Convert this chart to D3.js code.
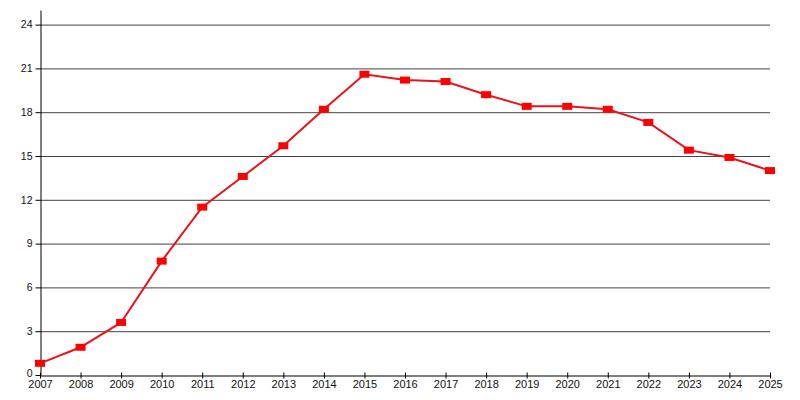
<!DOCTYPE html>
<html>
<head>
<meta charset="utf-8">
<script src="https://cdn.jsdelivr.net/npm/d3@7"></script>
<style>
  html, body { margin: 0; padding: 0; background: #fff; }
  svg { display: block; }
</style>
</head>
<body>
<div id="chart"></div>
<script>
// ── Data ──────────────────────────────────────────
const years  = [2007, 2008, 2009, 2010, 2011, 2012, 2013, 2014, 2015, 2016,
                2017, 2018, 2019, 2020, 2021, 2022, 2023, 2024, 2025];
const values = [0.8, 1.9, 3.6, 7.8, 11.5, 13.6, 15.7, 18.2, 20.6, 20.2,
                20.1, 19.2, 18.4, 18.4, 18.2, 17.3, 15.4, 14.9, 14.0];
const yTicks = [0, 3, 6, 9, 12, 15, 18, 21, 24];

const width = 800, height = 400;
const margin = { top: 10, right: 30, bottom: 25, left: 40 };

const svg = d3.select('#chart').append('svg')
  .attr('width', width)
  .attr('height', height);

const x = d3.scaleLinear()
  .domain([years[0], years[years.length - 1]])
  .range([margin.left, width - margin.right]);
const y = d3.scaleLinear()
  .domain([0, 25])
  .range([height - margin.bottom, margin.top]);

const font = "'Liberation Sans', Arial, sans-serif";

// Grid lines
svg.append('g')
  .selectAll('line')
  .data(yTicks.filter(t => t > 0))
  .enter().append('line')
  .attr('x1', x.range()[0]).attr('x2', x.range()[1])
  .attr('y1', d => y(d) + 0.5).attr('y2', d => y(d) + 0.5)
  .attr('stroke', '#444')
  .attr('stroke-width', 1);

// Y axis
const yAxis = svg.append('g')
  .attr('transform', `translate(${margin.left + 0.5},0)`)
  .call(d3.axisLeft(y).tickValues(yTicks).tickSize(5).tickPadding(3).tickSizeOuter(0));
yAxis.selectAll('text').attr('font-family', font).attr('font-size', '10.5px').attr('fill', '#111');
yAxis.selectAll('line, path').attr('stroke', '#000');
// "0" sits right on top of the first year label, nudge it up a little
yAxis.selectAll('.tick text').filter(d => d === 0).attr('dy', '0.1em');

// X axis
const xAxis = svg.append('g')
  .attr('transform', `translate(0,${height - margin.bottom + 0.5})`)
  .call(d3.axisBottom(x).tickValues(years).tickFormat(d3.format('d'))
    .tickSize(3).tickPadding(2).tickSizeOuter(0));
xAxis.selectAll('.tick line').attr('y1', -3);
xAxis.selectAll('text').attr('font-family', font).attr('font-size', '11px').attr('fill', '#111');
xAxis.selectAll('line, path').attr('stroke', '#000');

// Line
const line = d3.line()
  .x((d, i) => x(years[i]))
  .y(d => y(d));
svg.append('path')
  .datum(values)
  .attr('d', line)
  .attr('fill', 'none')
  .attr('stroke', '#e8141b')
  .attr('stroke-width', 2);

// Markers
svg.append('g')
  .selectAll('rect')
  .data(values)
  .enter().append('rect')
  .attr('x', (d, i) => x(years[i]) - 5)
  .attr('y', d => y(d) - 3.5)
  .attr('width', 10)
  .attr('height', 7)
  .attr('fill', '#f00');
</script>
</body>
</html>
